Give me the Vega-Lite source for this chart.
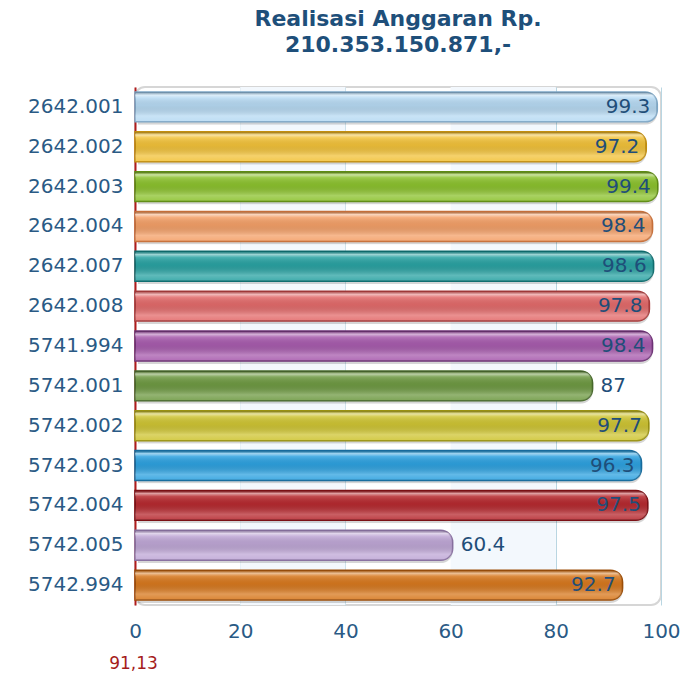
{
  "$schema": "https://vega.github.io/schema/vega-lite/v6.json",
  "autosize": {"type": "none"},
  "width": 526,
  "height": 518,
  "padding": {"left": 135, "top": 87, "right": 29, "bottom": 76},
  "background": "white",
  "title": {
    "text": ["Realisasi Anggaran Rp.", "210.353.150.871,-"],
    "font": "DejaVu Sans",
    "fontSize": 22,
    "fontWeight": "bold",
    "color": "#1e4f7a",
    "lineHeight": 26,
    "offset": 30,
    "anchor": "middle"
  },
  "config": {
    "font": "DejaVu Sans",
    "view": {"stroke": "#d6d6d6", "strokeWidth": 2, "cornerRadius": 10},
    "axis": {"labelFont": "DejaVu Sans", "labelFontSize": 20, "labelColor": "#2a5a85"}
  },
  "datasets": {
    "bars": [
      {"code": "2642.001", "value": 99.3},
      {"code": "2642.002", "value": 97.2},
      {"code": "2642.003", "value": 99.4},
      {"code": "2642.004", "value": 98.4},
      {"code": "2642.007", "value": 98.6},
      {"code": "2642.008", "value": 97.8},
      {"code": "5741.994", "value": 98.4},
      {"code": "5742.001", "value": 87},
      {"code": "5742.002", "value": 97.7},
      {"code": "5742.003", "value": 96.3},
      {"code": "5742.004", "value": 97.5},
      {"code": "5742.005", "value": 60.4},
      {"code": "5742.994", "value": 92.7}
    ],
    "bands": [
      {"from": 20, "to": 40},
      {"from": 60, "to": 80}
    ]
  },
  "layer": [
    {
      "data": {"name": "bands"},
      "mark": {"type": "rect", "color": "#f3f8fd"},
      "encoding": {
        "x": {"field": "from", "type": "quantitative", "scale": {"domain": [0, 100], "nice": false}},
        "x2": {"field": "to"}
      }
    },
    {
      "data": {"name": "bars"},
      "mark": {"type": "bar", "color": "#000000", "opacity": 0.16, "cornerRadiusEnd": 12, "xOffset": 3, "yOffset": 3},
      "encoding": {
        "y": {"field": "code", "type": "nominal", "sort": null, "scale": {"paddingInner": 0.25, "paddingOuter": 0.125}},
        "x": {"field": "value", "type": "quantitative"}
      }
    },
    {
      "data": {"name": "bars"},
      "mark": {"type": "bar", "cornerRadiusEnd": 12, "strokeWidth": 1.5},
      "encoding": {
        "y": {"field": "code", "type": "nominal", "sort": null,
          "axis": {"title": null, "ticks": false, "labelPadding": 12, "domainColor": "#b01c1c", "domainWidth": 2, "grid": false}},
        "x": {"field": "value", "type": "quantitative",
          "axis": {"title": "91,13", "titleColor": "#a51c1c", "titleFontSize": 17, "titleFontWeight": "normal", "titleFont": "DejaVu Sans",
            "titleX": -2, "titleY": 58, "titleAlign": "center", "titleBaseline": "middle", "titleAnchor": "start",
            "values": [0, 20, 40, 60, 80, 100], "domain": false, "ticks": false, "labelPadding": 16, "labelFlush": false,
            "grid": true, "gridColor": "#b9d6e2", "gridWidth": 1}},
        "fill": {"field": "code", "type": "nominal", "legend": null, "scale": {
          "domain": ["2642.001","2642.002","2642.003","2642.004","2642.007","2642.008","5741.994","5742.001","5742.002","5742.003","5742.004","5742.005","5742.994"],
          "range": ["#b7daf3","#f2c23a","#8cc22e","#f4a068","#2aa3a3","#e36b6b","#a85cae","#6f9a43","#cfc534","#2ea2e0","#b72a30","#bfa7d6","#d8791f"]}},
        "stroke": {"field": "code", "type": "nominal", "legend": null, "scale": {
          "domain": ["2642.001","2642.002","2642.003","2642.004","2642.007","2642.008","5741.994","5742.001","5742.002","5742.003","5742.004","5742.005","5742.994"],
          "range": ["#7ea7c6","#c28e0e","#5e8c12","#c8703a","#0f6e70","#a83a3a","#6e3176","#47692a","#9a9210","#166c9e","#7c0f14","#8a72a2","#9e4f08"]}}
      }
    },
    {
      "data": {"name": "bars"},
      "mark": {"type": "bar", "cornerRadiusEnd": 12,
        "fill": {"gradient": "linear", "x1": 0, "y1": 0, "x2": 0, "y2": 1, "stops": [
          {"offset": 0, "color": "rgba(0,0,0,0.12)"},
          {"offset": 0.1, "color": "rgba(255,255,255,0.55)"},
          {"offset": 0.2, "color": "rgba(255,255,255,0.15)"},
          {"offset": 0.45, "color": "rgba(0,0,0,0.06)"},
          {"offset": 0.8, "color": "rgba(255,255,255,0.25)"},
          {"offset": 1, "color": "rgba(255,255,255,0.1)"}]}},
      "encoding": {
        "y": {"field": "code", "type": "nominal", "sort": null},
        "x": {"field": "value", "type": "quantitative"}
      }
    },
    {
      "data": {"name": "bars"},
      "transform": [{"filter": "datum.value >= 90"}],
      "mark": {"type": "text", "align": "right", "dx": -7, "fontSize": 20, "color": "#1f4e79", "baseline": "middle"},
      "encoding": {
        "y": {"field": "code", "type": "nominal", "sort": null},
        "x": {"field": "value", "type": "quantitative"},
        "text": {"field": "value", "type": "quantitative"}
      }
    },
    {
      "data": {"name": "bars"},
      "transform": [{"filter": "datum.value < 90"}],
      "mark": {"type": "text", "align": "left", "dx": 8, "fontSize": 20, "color": "#1f4e79", "baseline": "middle"},
      "encoding": {
        "y": {"field": "code", "type": "nominal", "sort": null},
        "x": {"field": "value", "type": "quantitative"},
        "text": {"field": "value", "type": "quantitative"}
      }
    }
  ]
}
